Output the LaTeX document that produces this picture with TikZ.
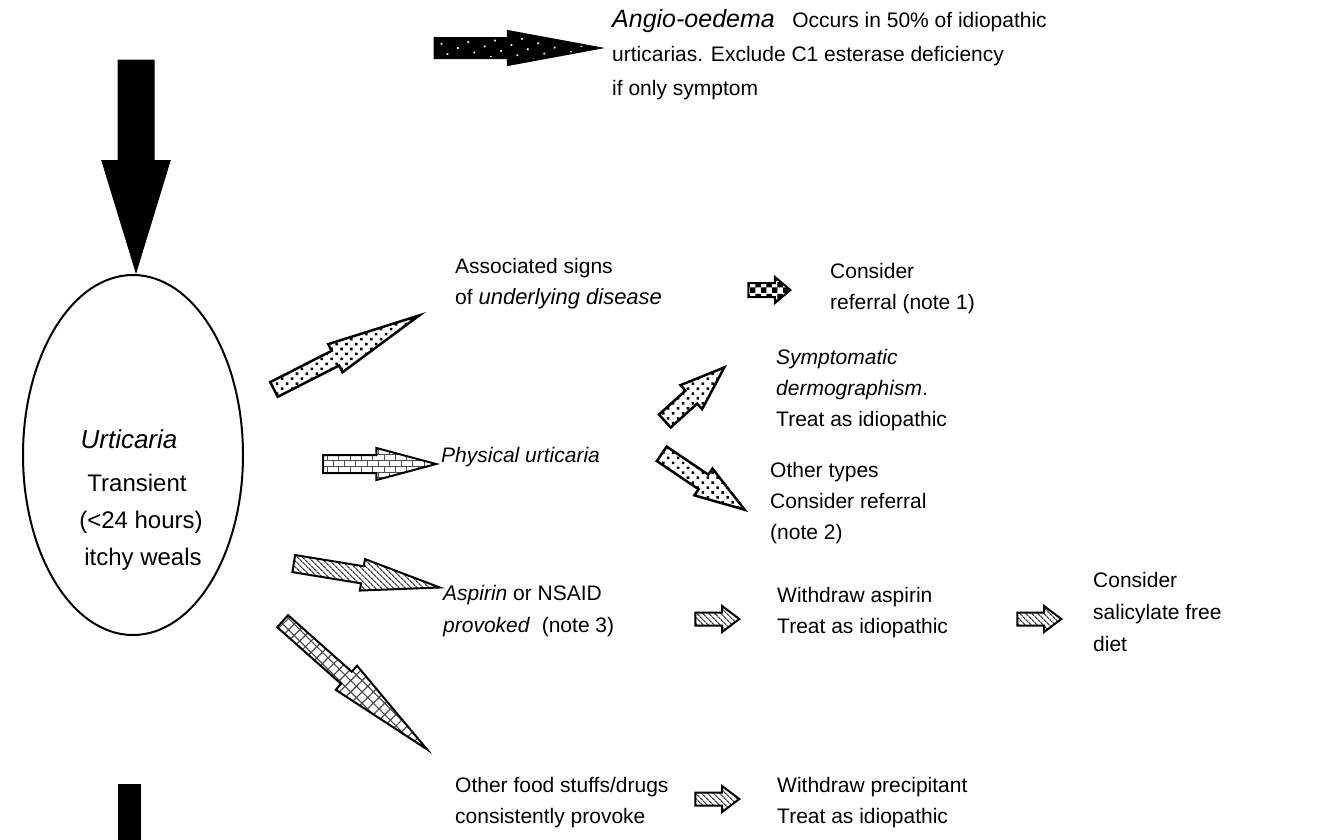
\documentclass[tikz,border=0pt]{standalone}
\usepackage{fontspec}
\setmainfont{Liberation Sans}
\usetikzlibrary{shapes.geometric, shapes.arrows, patterns, patterns.meta, positioning}
\tikzset{
	blk/.style={single arrow, draw=black, line width=2pt, minimum width=0pt, anchor=tip, single arrow head indent=0pt},
	arr_black/.style={blk, fill=black},
	arr_blackdots/.style={blk, preaction={fill=black}, pattern={Dots[radius=1.2pt, distance=12pt, angle=30]}, pattern color=white},
	arr_dots/.style={blk, line width=2.5pt, pattern={Dots[radius=1.8pt, distance=7pt, angle=45]}, pattern color=black},
	arr_bricks/.style={blk, pattern=bricks, pattern color=black!70},
	arr_hatch/.style={blk, pattern={Lines[angle=-45, distance=4pt, line width=1.3pt]}, pattern color=black!75},
	arr_grid/.style={blk, pattern={Hatch[angle=45, distance=8pt, line width=1.2pt]}, pattern color=black!70},
	arr_check/.style={blk, pattern=checkerboard, pattern color=black},
	txt/.style={font=\fontsize{21}{31}\selectfont, align=left, anchor=north west, inner sep=0pt}
}
\begin{document}
\begin{tikzpicture}[x=1pt, y=-1pt]
	\useasboundingbox (0,0) rectangle (1321,839);
	% big black arrows
	\node[arr_black, minimum height=210pt, inner sep=16.5pt, single arrow head extend=16pt, single arrow tip angle=34, rotate=-90] (down_arr) at (136,274) {};
	\node[fill=black, minimum width=23pt, minimum height=56pt, inner sep=0pt, anchor=north west] (stub) at (118,784) {};
	\node[arr_blackdots, minimum height=165pt, inner sep=9pt, single arrow head extend=7pt, single arrow tip angle=21] (angio_arr) at (605,48) {};
	\node[txt, font=\fontsize{21}{34}\selectfont] (angio) at (612,9) {{\fontsize{25}{34}\selectfont\itshape Angio-oedema}\ \ \ Occurs in 50\% of idiopathic\\urticarias. Exclude C1 esterase deficiency\\if only symptom};
	% urticaria
	\node[draw, ellipse, line width=2pt, minimum width=220pt, minimum height=360pt] (urt) at (133,455) {};
	\node[font=\fontsize{24}{37}\selectfont, align=center, inner sep=0pt] (urt_txt) at (137,500) {{\fontsize{26}{40}\selectfont\itshape Urticaria}\hspace*{16pt}\\[6pt]Transient\\\hspace*{8pt}(<24 hours)\\\hspace*{12pt}itchy weals};
	% branches
	\node[arr_dots, minimum height=163pt, inner sep=7pt, single arrow head extend=7.5pt, single arrow tip angle=19, rotate=27] (sign_arr) at (426,312) {};
	\node[txt] (signs) at (455,258) {Associated signs\\of {\fontsize{22}{31}\selectfont\itshape underlying disease}};
	\node[arr_check, minimum height=42pt, inner sep=6pt, single arrow head extend=6pt, single arrow tip angle=80] (ref1_arr) at (792,290) {};
	\node[txt] (ref1) at (830,263) {Consider\\referral (note 1)};
	\node[arr_bricks, minimum height=113pt, inner sep=8pt, single arrow head extend=7pt, single arrow tip angle=30] (phys_arr) at (440,464) {};
	\node[txt] (phys) at (441,447) {\textit{Physical urticaria}};
	\node[arr_dots, minimum height=80pt, inner sep=7.5pt, single arrow head extend=7.4pt, single arrow tip angle=40, rotate=42] (derm_arr) at (727,365) {};
	\node[txt] (derm) at (776,349) {\textit{Symptomatic}\\\textit{dermographism}.\\Treat as idiopathic};
	\node[arr_dots, minimum height=100pt, inner sep=7.5pt, single arrow head extend=7.4pt, single arrow tip angle=36, rotate=-34] (other_arr) at (748,512) {};
	\node[txt] (other) at (770,462) {Other types\\Consider referral\\(note 2)};
	\node[arr_hatch, minimum height=148pt, inner sep=8pt, single arrow head extend=7.3pt, single arrow tip angle=23, rotate=-9.3] (asp_arr) at (443,588) {};
	\node[txt, font=\fontsize{21}{32}\selectfont] (asp) at (443,585) {\textit{Aspirin} or NSAID\\\textit{provoked}\ \ (note 3)};
	\node[arr_hatch, minimum height=44pt, inner sep=5.5pt, single arrow head extend=6.5pt, single arrow tip angle=74] (wd_arr) at (741,619) {};
	\node[txt] (wd) at (777,587) {Withdraw aspirin\\Treat as idiopathic};
	\node[arr_hatch, minimum height=44pt, inner sep=5.5pt, single arrow head extend=6.5pt, single arrow tip angle=74] (sal_arr) at (1063,619) {};
	\node[txt, font=\fontsize{21}{32}\selectfont] (sal) at (1093,572) {Consider\\salicylate free\\diet};
	\node[arr_grid, minimum height=193pt, inner sep=7.5pt, single arrow head extend=8pt, single arrow tip angle=17, rotate=-41.6] (food_arr) at (430,752) {};
	\node[txt] (food) at (455,777) {Other food stuffs/drugs\\consistently provoke};
	\node[arr_hatch, minimum height=44pt, inner sep=5.5pt, single arrow head extend=6.5pt, single arrow tip angle=74] (prec_arr) at (741,799) {};
	\node[txt] (prec) at (777,777) {Withdraw precipitant\\Treat as idiopathic};
\end{tikzpicture}
\end{document}
